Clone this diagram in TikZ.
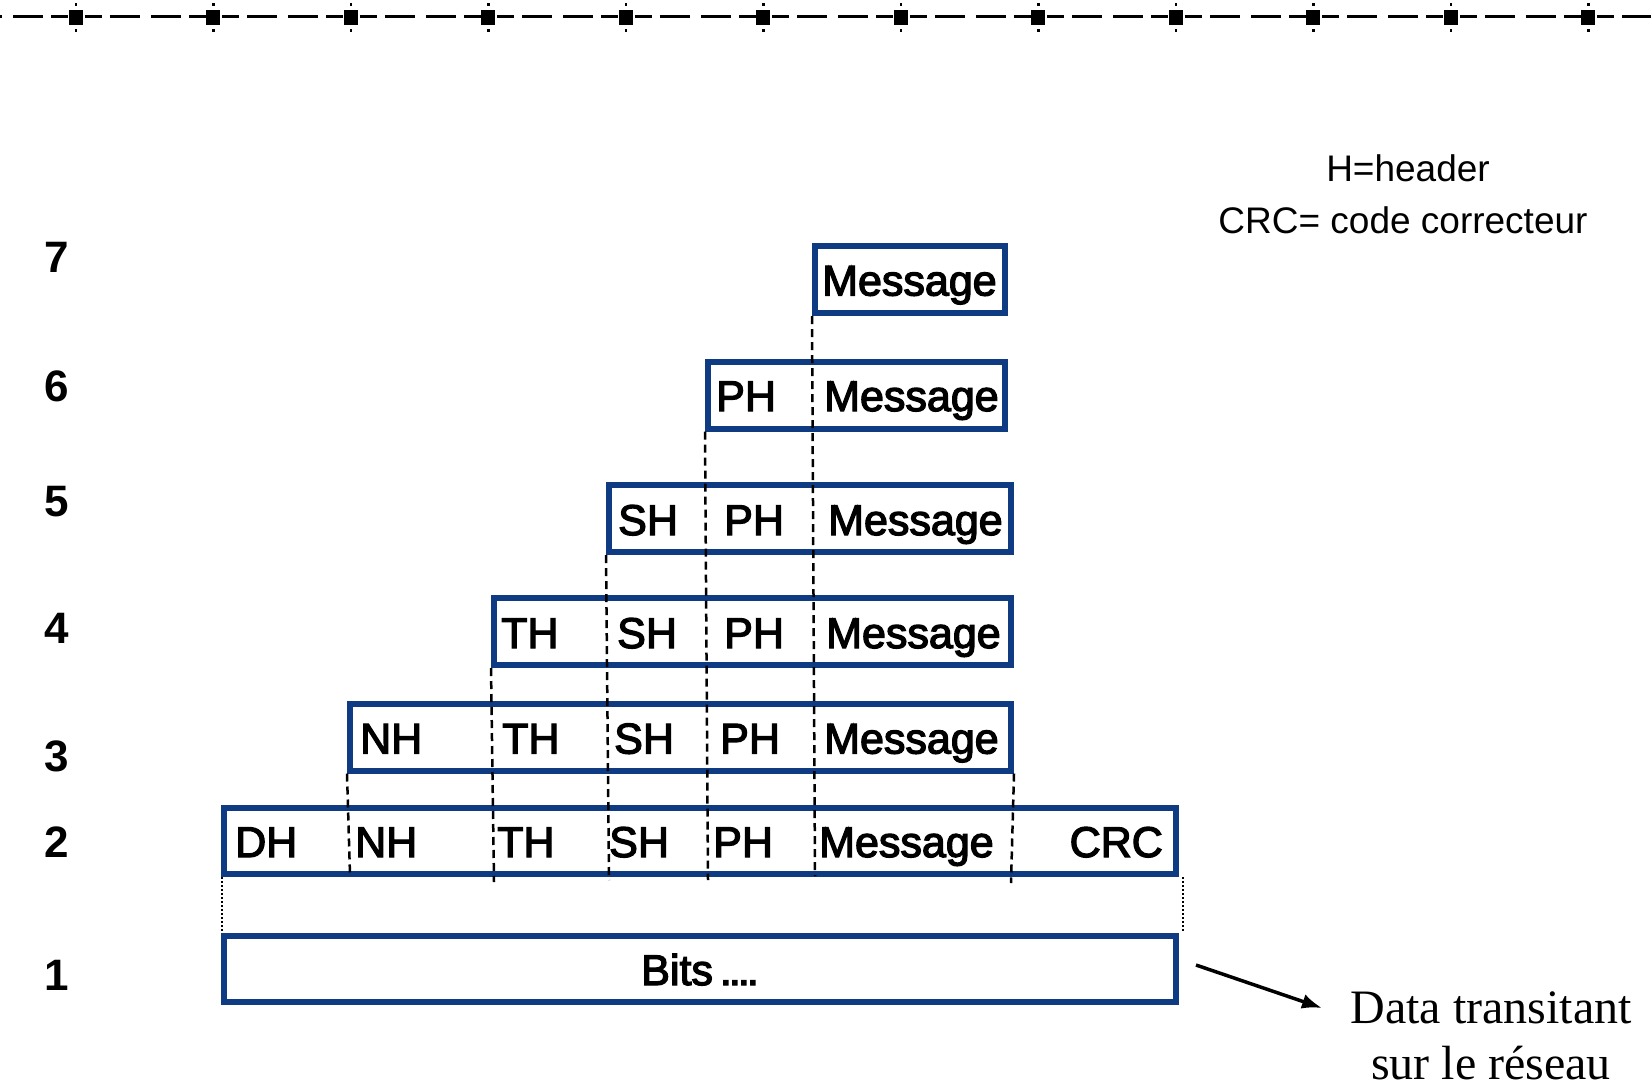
\documentclass[tikz,border=0pt]{standalone}
\usepackage{fontspec}
\setmainfont{Liberation Sans}
\newfontfamily\fieldfont[FakeBold=3]{Liberation Sans}
\newfontfamily\noteserif{Liberation Serif}
\usetikzlibrary{arrows.meta}
\definecolor{pdublue}{RGB}{14,59,130}

\begin{document}
\begin{tikzpicture}[x=1pt,y=-1pt,
  pdu/.style={draw=pdublue, line width=6pt, inner sep=0pt, rectangle},
  field/.style={anchor=base west, inner sep=0pt, font=\fieldfont\fontsize{43}{50}\selectfont},
  fieldR/.style={field, anchor=base east},
  layer/.style={anchor=base, inner sep=0pt, font=\bfseries\fontsize{44}{50}\selectfont},
  guide/.style={line width=2.5pt, dash pattern=on 8pt off 5pt},
  dotline/.style={line width=2pt, dash pattern=on 2pt off 2pt},
  legend/.style={anchor=base, inner sep=0pt, font=\fontsize{37}{44}\selectfont},
  ruler/.style={line width=2.5pt},
]
\useasboundingbox (0,0) rectangle (1651,1088);

% ---- ruler along the top edge ----
\begin{scope}
\clip (0,0) rectangle (1651,40);
\foreach \k in {-1,...,11} {
  \pgfmathsetmacro\c{75.8+137.5*\k}
  \foreach \a/\b in {9/26, 34/64, 75/105, 113/130}
    \draw[ruler] (\c+\a,16.5) -- (\c+\b,16.5);
}
\foreach \k in {0,...,11} {
  \pgfmathsetmacro\c{75.8+137.5*\k}
  \fill (\c-7,9.5) rectangle (\c+7,24.5);
  \fill (\c-1.2,3) rectangle (\c+1.2,5.5);
  \fill (\c-1.2,28.7) rectangle (\c+1.2,31.5);
}
\end{scope}

% ---- legend ----
\node[legend] (leg1) at (1408,181) {H=header};
\node[legend] (leg2) at (1403,233) {CRC= code correcteur};

% ---- layer numbers ----
\node[layer] (n7) at (57,272) {7};
\node[layer] (n6) at (57,401) {6};
\node[layer] (n5) at (57,516) {5};
\node[layer] (n4) at (57,643) {4};
\node[layer] (n3) at (57,771) {3};
\node[layer] (n2) at (57,857) {2};
\node[layer] (n1) at (57,990) {1};

% ---- encapsulation boxes ----
\node[pdu, minimum width=190pt, minimum height=67pt]   (b7) at (910,279.5) {};
\node[pdu, minimum width=297pt, minimum height=66.5pt] (b6) at (856.5,395.25) {};
\node[pdu, minimum width=402pt, minimum height=67pt]   (b5) at (810,518.5) {};
\node[pdu, minimum width=517pt, minimum height=67pt]   (b4) at (752.5,631.5) {};
\node[pdu, minimum width=661pt, minimum height=66.5pt] (b3) at (680.5,737.25) {};
\node[pdu, minimum width=952pt, minimum height=66pt]   (b2) at (700,841) {};
\node[pdu, minimum width=952pt, minimum height=66.5pt] (b1) at (700,968.75) {};

% ---- field labels ----
\node[field] (m7) at (822,295.5) {Message};

\node[field] (p6) at (716,411) {PH};
\node[field] (m6) at (824,411) {Message};

\node[field] (s5) at (618,535) {SH};
\node[field] (p5) at (724,535) {PH};
\node[field] (m5) at (828,535) {Message};

\node[field] (t4) at (501,648) {TH};
\node[field] (s4) at (617,648) {SH};
\node[field] (p4) at (724,648) {PH};
\node[field] (m4) at (826,648) {Message};

\node[field] (h3) at (360,753.5) {NH};
\node[field] (t3) at (502,753.5) {TH};
\node[field] (s3) at (614,753.5) {SH};
\node[field] (p3) at (720,753.5) {PH};
\node[field] (m3) at (824,753.5) {Message};

\node[field] (d2) at (235,857) {DH};
\node[field] (h2) at (355,857) {NH};
\node[field] (t2) at (497,857) {TH};
\node[field] (s2) at (609,857) {SH};
\node[field] (p2) at (713,857) {PH};
\node[field] (m2) at (819,857) {Message};
\node[fieldR] (c2) at (1163,857) {CRC};

\node[field, anchor=base] (bits) at (700,985) {Bits\kern7pt.\kern-3pt.\kern-3pt.\kern-3pt.};

% ---- field boundaries carried down to the frame ----
\coordinate (g7) at (815,876);
\coordinate (g6) at (708,880);
\coordinate (g5) at (609,880);
\coordinate (g4) at (494,882);
\coordinate (g3) at (350,875);
\coordinate (gc) at (1011,883);
\draw[guide] (b7.south west) -- (g7);
\draw[guide] (b6.south west) -- (g6);
\draw[guide] (b5.south west) -- (g5);
\draw[guide] (b4.south west) -- (g4);
\draw[guide] (b3.south west) -- (g3);
\draw[guide] (b3.south east) -- (gc);

% ---- frame to bits ----
\draw[dotline] ([xshift=1pt]b2.south west) -- ([xshift=1pt]b1.north west);
\draw[dotline] ([xshift=4pt]b2.south east) -- ([xshift=4pt]b1.north east);

% ---- network note (base = baseline of the last line) ----
\node[anchor=base, inner sep=0pt, align=center,
      font=\noteserif\fontsize{48}{56}\selectfont] (data) at (1491,1079)
  {Data transitant\\sur le réseau};
\coordinate (arrS) at (1196,965);
\coordinate (arrE) at (1322,1008);
\draw[line width=3.5pt, -{Latex[length=20pt,width=15pt]}] (arrS) -- (arrE);
\end{tikzpicture}
\end{document}
